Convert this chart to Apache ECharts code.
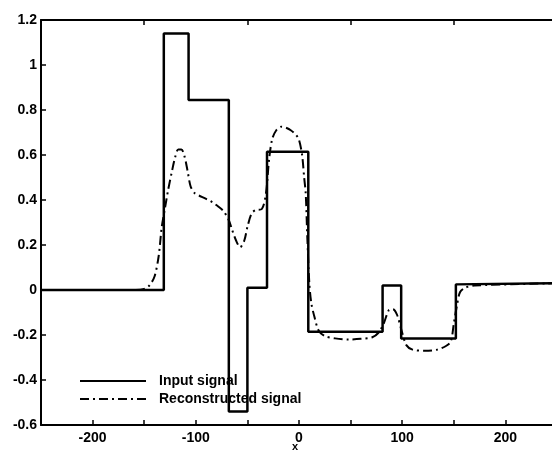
<!DOCTYPE html>
<html><head><meta charset="utf-8">
<script src="https://cdn.jsdelivr.net/npm/echarts@6/dist/echarts.min.js"></script>
<style>html,body{margin:0;padding:0;background:#fff}#c{width:552px;height:456px}</style>
</head><body><div id="c"></div>
<script>
var inputX = [-250,-131,-131,-107,-107,-68,-68,-50,-50,-31,-31,9,9,81,81,99,99,152,152,250];
var inputY = [0,0,1.14,1.14,0.845,0.845,-0.54,-0.54,0.01,0.01,0.615,0.615,-0.185,-0.185,0.02,0.02,-0.215,-0.215,0.025,0.03];
var reconX = [-250,-160,-150,-145,-140,-136,-133,-130,-127,-123,-120,-117,-114,-111,-108,-105,-101,-97,-90,-84,-78,-73,-68,-65,-61,-57,-53,-50,-46,-42,-36,-32,-29,-26,-22,-17,-12,-8,-3,0,3,5,6.5,8,10,12,15,19,25,35,48,60,71,77,82,87,91,95,100,104,110,122,134,142,147,150,153,156,161,170,250];
var reconY = [0,0,0.005,0.02,0.06,0.15,0.28,0.36,0.44,0.53,0.59,0.625,0.625,0.595,0.53,0.46,0.43,0.42,0.405,0.39,0.37,0.35,0.31,0.27,0.22,0.19,0.22,0.28,0.34,0.355,0.36,0.43,0.58,0.67,0.71,0.726,0.72,0.71,0.69,0.667,0.6,0.5,0.43,0.24,0.03,-0.06,-0.12,-0.18,-0.205,-0.215,-0.22,-0.217,-0.21,-0.19,-0.15,-0.09,-0.085,-0.11,-0.19,-0.245,-0.265,-0.27,-0.265,-0.25,-0.23,-0.15,-0.07,-0.01,0.01,0.02,0.03];
var seriesNames = ['Input signal','Reconstructed signal'];
var xAxisTitle = 'x';

function zip(a,b){return a.map(function(v,i){return [v,b[i]];});}
var font = '"Liberation Sans", Arial, sans-serif';
var chart = echarts.init(document.getElementById('c'));
chart.setOption({
  animation:false,
  backgroundColor:'#fff',
  title:{text:xAxisTitle, left:292, top:441, padding:0,
    textStyle:{fontFamily:font,fontWeight:'bold',fontSize:11,color:'#000'}},
  grid:{left:41,right:-5,top:20,bottom:31,containLabel:false,outerBoundsMode:'none'},
  legend:{
    orient:'vertical', left:74, top:369, itemGap:4, itemWidth:66, itemHeight:14,
    itemStyle:{opacity:0,borderWidth:0},
    textStyle:{fontFamily:font,fontWeight:'bold',fontSize:14,color:'#000',padding:[0,0,0,8]},
    data:seriesNames
  },
  xAxis:[{
    type:'value', min:-250, max:250, interval:50, position:'bottom',
    axisLine:{onZero:false,lineStyle:{color:'#000',width:2}},
    axisTick:{inside:true,length:5,lineStyle:{color:'#000',width:1.5},
      interval:function(i,v){return v%100===0;}},
    axisLabel:{fontFamily:font,fontWeight:'bold',fontSize:14,color:'#000',margin:6,
      formatter:function(v){return v%100===0 && Math.abs(v)<250 ? String(v) : '';}},
    splitLine:{show:false}
  },{
    type:'value', min:-250, max:250, interval:100, position:'top',
    axisLine:{onZero:false,lineStyle:{color:'#000',width:2}},
    axisTick:{inside:true,length:5,lineStyle:{color:'#000',width:1.5}},
    axisLabel:{show:false}, splitLine:{show:false}
  }],
  yAxis:{
    type:'value', min:-0.6, max:1.2, interval:0.2,
    axisLine:{show:true,onZero:false,lineStyle:{color:'#000',width:2}},
    axisTick:{show:true,inside:true,length:5,lineStyle:{color:'#000',width:1.5}},
    axisLabel:{fontFamily:font,fontWeight:'bold',fontSize:14,color:'#000',margin:4,
      formatter:function(v){return String(Math.round(v*10)/10);}},
    splitLine:{show:false}
  },
  series:[{
    name:seriesNames[0], type:'line', symbol:'none', xAxisIndex:0,
    data:zip(inputX,inputY),
    lineStyle:{color:'#000',width:2.5}, itemStyle:{color:'#000'}
  },{
    name:seriesNames[1], type:'line', symbol:'none', xAxisIndex:0, smooth:0.3,
    data:zip(reconX,reconY),
    lineStyle:{color:'#000',width:2,type:[9,4,2,4]}, itemStyle:{color:'#000'}
  }]
});
</script></body></html>
